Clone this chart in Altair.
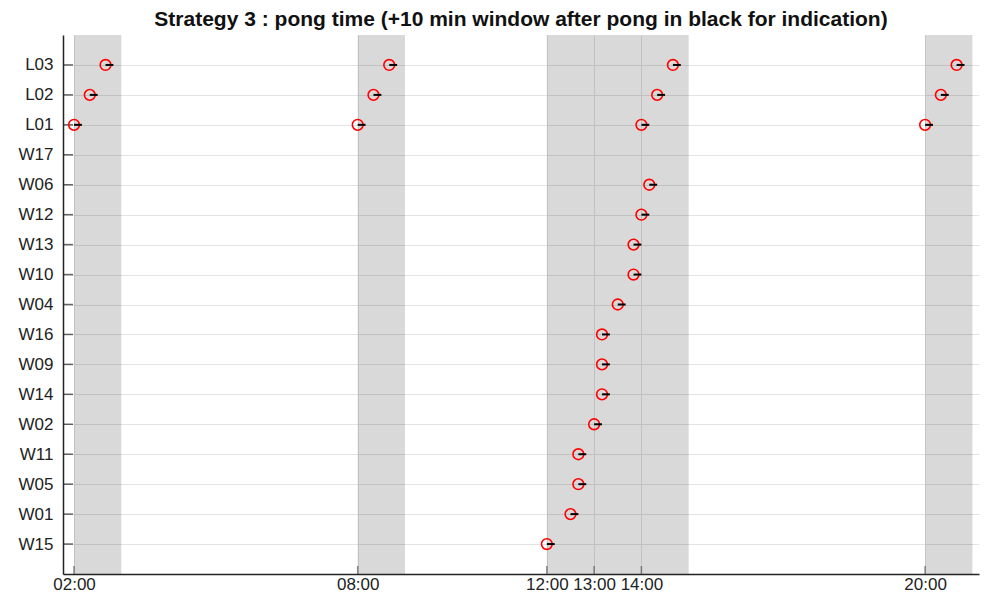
import altair as alt
import pandas as pd

categories = ["L03", "L02", "L01", "W17", "W06", "W12", "W13", "W10", "W04",
              "W16", "W09", "W14", "W02", "W11", "W05", "W01", "W15"]

pong_node = ["L03", "L03", "L03", "L03",
             "L02", "L02", "L02", "L02",
             "L01", "L01", "L01", "L01",
             "W06", "W12", "W13", "W10", "W04", "W16", "W09", "W14",
             "W02", "W11", "W05", "W01", "W15"]
pong_time = ["02:40", "08:40", "14:40", "20:40",
             "02:20", "08:20", "14:20", "20:20",
             "02:00", "08:00", "14:00", "20:00",
             "14:10", "14:00", "13:50", "13:50", "13:30", "13:10", "13:10", "13:10",
             "13:00", "12:40", "12:40", "12:30", "12:00"]

band_start = [2, 8, 12, 20]
band_end = [3, 9, 15, 21]

tick_hours = [2, 8, 12, 13, 14, 20]

window_min = 10

W, H = 916, 539
FONT = "Liberation Sans"


def to_h(s):
    h, m = s.split(":")
    return int(h) + int(m) / 60


pong = pd.DataFrame({
    "node": pong_node,
    "t": [to_h(s) for s in pong_time],
})
pong["t_end"] = pong["t"] + window_min / 60

bands = pd.DataFrame({"start": band_start, "end": band_end})
ticks_df = pd.DataFrame({"h": tick_hours})
cats_df = pd.DataFrame({"node": categories})

xscale = alt.Scale(domain=[1.767, 21.14], nice=False, zero=False)
yscale = alt.Scale(domain=categories, type="point", padding=1)

xaxis = alt.Axis(values=tick_hours, labelExpr="format(datum.value, '02d') + ':00'",
                 title=None, ticks=False, grid=True, gridColor="#e3e3e3", gridWidth=1,
                 domainColor="#222222", domainWidth=1.5, labelFont=FONT, labelFontSize=17,
                 labelColor="#222222", labelPadding=2, labelOverlap=False, labelFlush=False)
yaxis = alt.Axis(title=None, ticks=False, grid=True, gridColor="#e3e3e3", gridWidth=1,
                 domainColor="#222222", domainWidth=1.5, labelFont=FONT, labelFontSize=17,
                 labelColor="#222222", labelPadding=10)

base_bands = alt.Chart(bands).mark_rect(color="#000000", opacity=0.15).encode(
    x=alt.X("start:Q", scale=xscale, axis=xaxis),
    x2="end:Q",
    y=alt.value(0),
    y2=alt.value(H),
)

# invisible layer that owns the y axis
yaxis_layer = alt.Chart(cats_df).mark_point(opacity=0).encode(
    y=alt.Y("node:N", scale=yscale, axis=yaxis, sort=categories),
    x=alt.value(0),
)

ytick = alt.Chart(cats_df).mark_tick(orient="horizontal", color="#222222", thickness=1.5).encode(
    y=alt.Y("node:N", scale=yscale, sort=categories),
    x=alt.value(5),
    size=alt.value(10),
)

xtick = alt.Chart(ticks_df).mark_tick(orient="vertical", color="#555555", thickness=1.5).encode(
    x=alt.X("h:Q", scale=xscale),
    y=alt.value(H - 4),
    size=alt.value(8),
)

circles = alt.Chart(pong).mark_point(shape="circle", filled=False, color="#ff0000",
                                     size=115, strokeWidth=1.6, opacity=1).encode(
    x=alt.X("t:Q", scale=xscale),
    y=alt.Y("node:N", scale=yscale, sort=categories),
)

windows = alt.Chart(pong).mark_rule(color="#000000", strokeWidth=2).encode(
    x=alt.X("t:Q", scale=xscale),
    x2="t_end:Q",
    y=alt.Y("node:N", scale=yscale, sort=categories),
)

chart = alt.layer(base_bands, yaxis_layer, ytick, xtick, circles, windows).properties(
    width=W, height=H,
    title=alt.TitleParams("Strategy 3 : pong time (+10 min window after pong in black for indication)",
                          font=FONT, fontSize=21, fontWeight="bold", color="#111111",
                          anchor="middle", offset=5),
    autosize=alt.AutoSizeParams(type="none"),
    padding={"left": 55, "top": 27, "right": 4, "bottom": 18},
).configure_view(stroke=None)

chart.save("out.html", embed_options={"renderer": "svg", "actions": False})
